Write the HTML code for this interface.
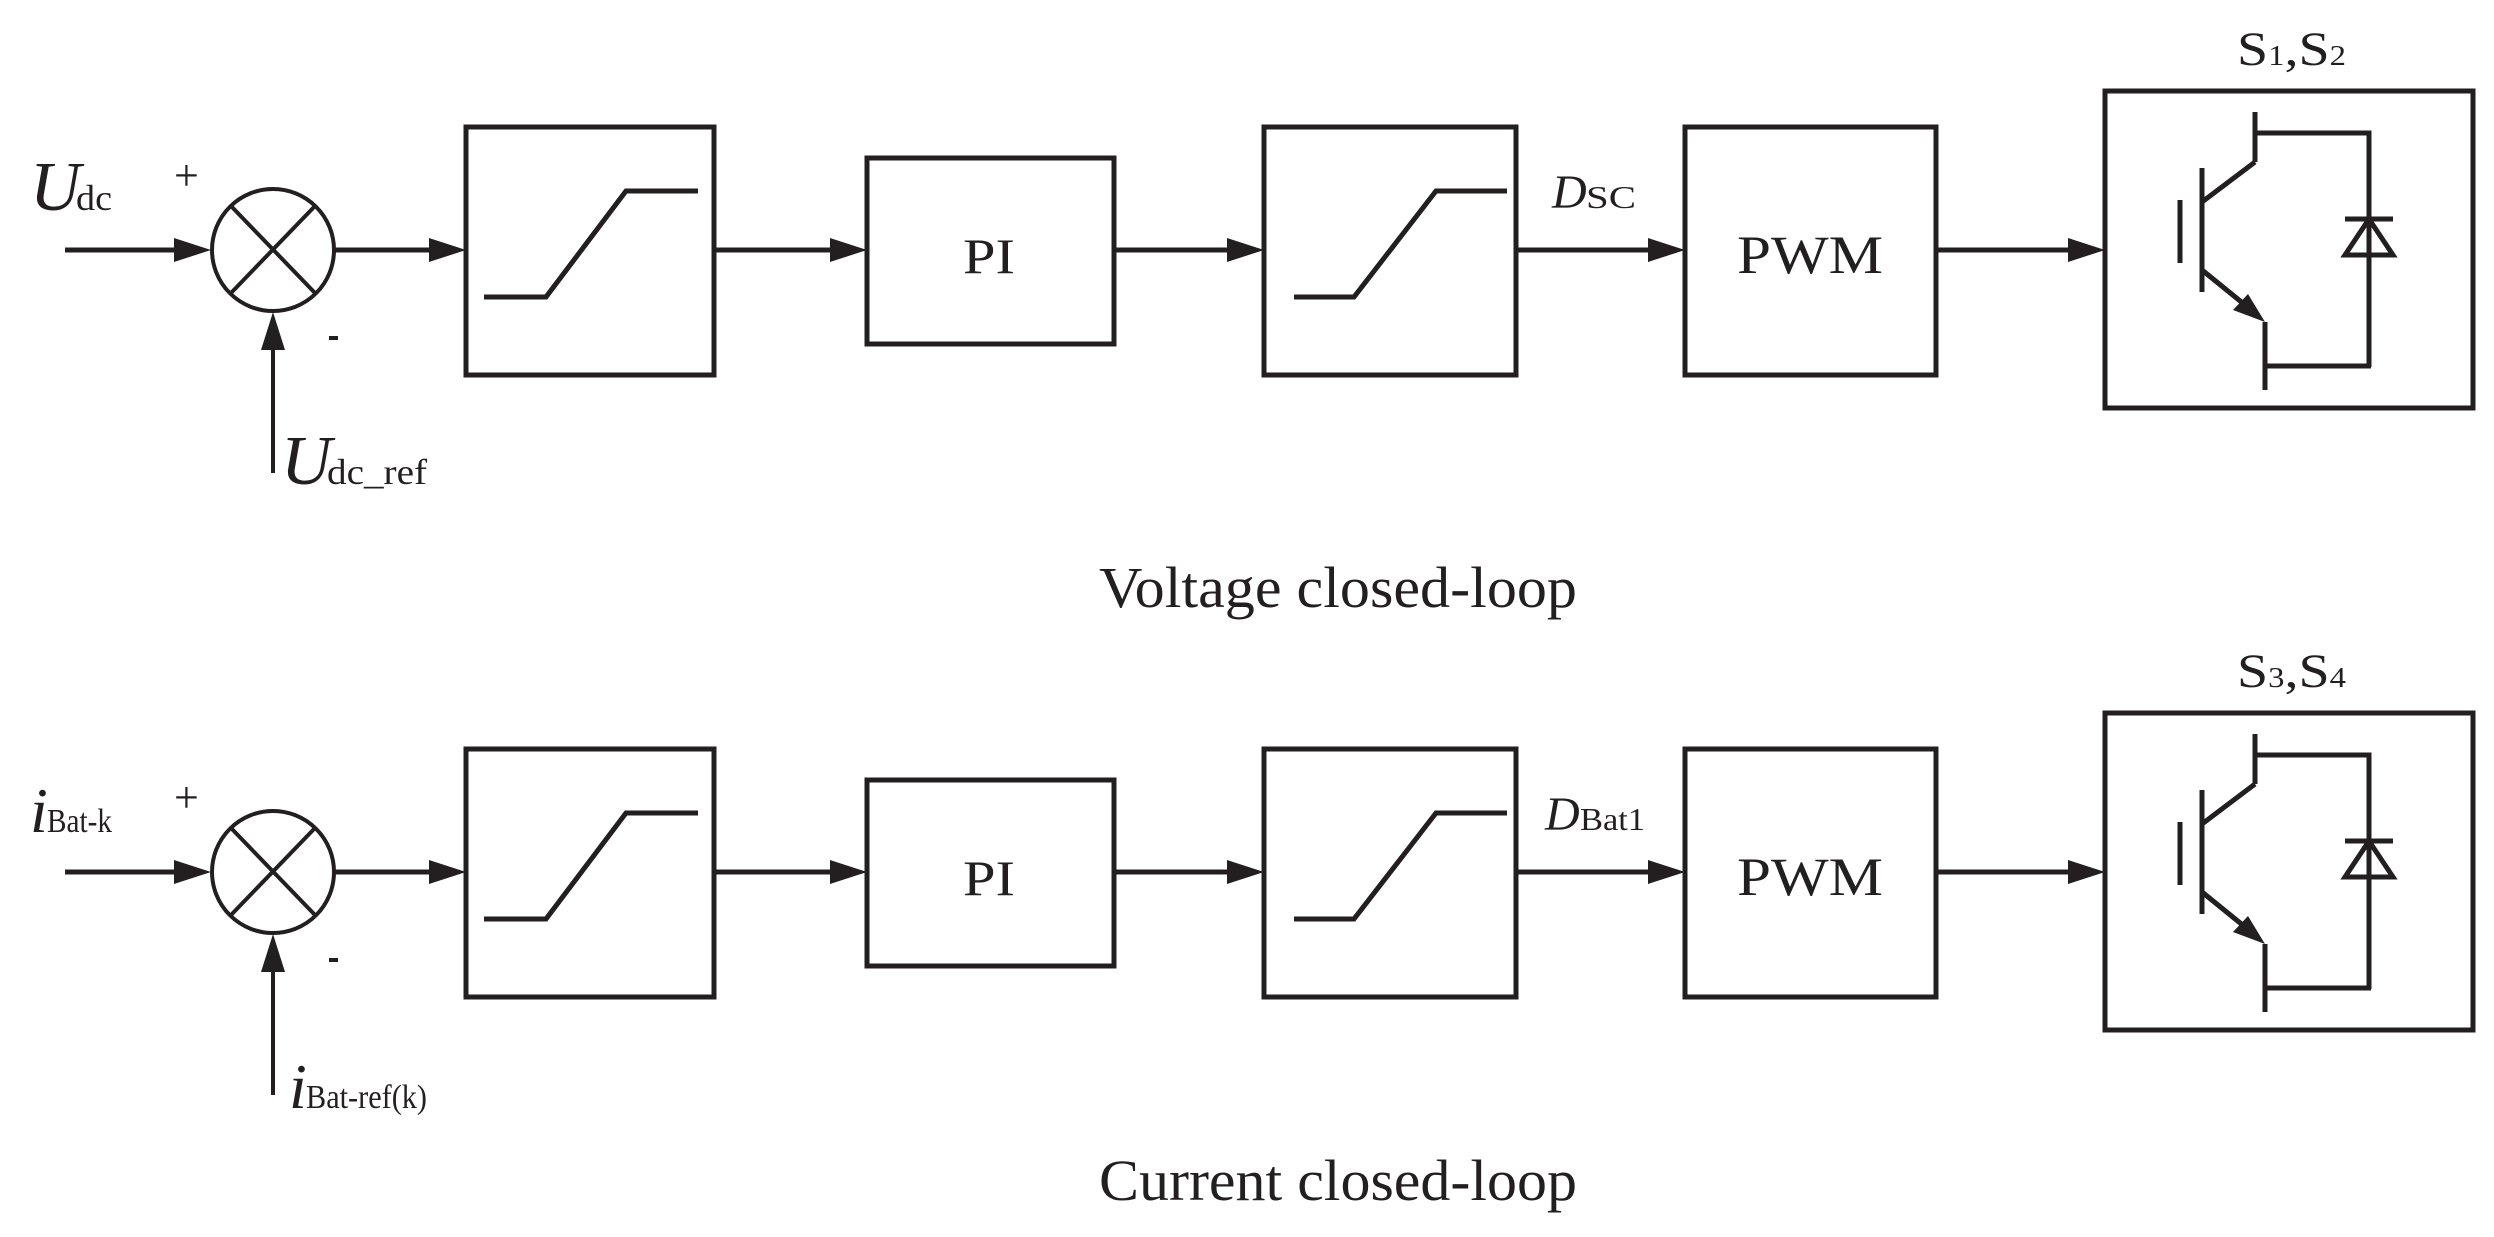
<!DOCTYPE html>
<html><head><meta charset="utf-8"><style>
html,body{margin:0;padding:0;background:#fff;}
svg{display:block;}
text{font-family:"Liberation Serif",serif;fill:#231f20;}
</style></head><body>
<svg width="2494" height="1237" viewBox="0 0 2494 1237" xmlns="http://www.w3.org/2000/svg">
<defs>
<g id="row" stroke="#231f20" stroke-width="5" fill="none">
  <!-- input -->
  <line x1="65" y1="250" x2="180" y2="250"/>
  <polygon points="211,250 174,238 174,262" fill="#231f20" stroke="none"/>
  <ellipse cx="273" cy="250" rx="61" ry="61" stroke-width="4"/>
  <line x1="231" y1="206" x2="315" y2="293" stroke-width="4"/>
  <line x1="315" y1="206" x2="231" y2="293" stroke-width="4"/>
  <!-- feedback -->
  <line x1="273" y1="348" x2="273" y2="473" stroke-width="4"/>
  <polygon points="273,312 261,350 285,350" fill="#231f20" stroke="none"/>
  <!-- to box1 -->
  <line x1="334" y1="250" x2="435" y2="250"/>
  <polygon points="466,250 429,238 429,262" fill="#231f20" stroke="none"/>
  <rect x="466" y="127" width="248" height="248"/>
  <polyline points="484,297 546,297 626,191 698,191"/>
  <!-- to PI -->
  <line x1="714" y1="250" x2="836" y2="250"/>
  <polygon points="867,250 830,238 830,262" fill="#231f20" stroke="none"/>
  <rect x="867" y="158" width="247" height="186"/>
  <!-- to box3 -->
  <line x1="1114" y1="250" x2="1233" y2="250"/>
  <polygon points="1264,250 1227,238 1227,262" fill="#231f20" stroke="none"/>
  <rect x="1264" y="127" width="252" height="248"/>
  <polyline points="1294,297 1354,297 1436,191 1507,191"/>
  <!-- to PWM -->
  <line x1="1516" y1="250" x2="1654" y2="250"/>
  <polygon points="1685,250 1648,238 1648,262" fill="#231f20" stroke="none"/>
  <rect x="1685" y="127" width="251" height="248"/>
  <!-- to switch -->
  <line x1="1936" y1="250" x2="2074" y2="250"/>
  <polygon points="2105,250 2068,238 2068,262" fill="#231f20" stroke="none"/>
  <rect x="2105" y="91" width="368" height="317"/>
  <!-- IGBT -->
  <line x1="2255" y1="112" x2="2255" y2="162"/>
  <polyline points="2255,133 2369,133 2369,367"/>
  <line x1="2255" y1="162" x2="2202" y2="202"/>
  <line x1="2202" y1="168" x2="2202" y2="292"/>
  <line x1="2180" y1="200" x2="2180" y2="263"/>
  <line x1="2202" y1="270" x2="2250" y2="309"/>
  <polygon points="2265,322 2233,310 2248,294" fill="#231f20" stroke="none"/>
  <polyline points="2265,322 2265,390"/>
  <line x1="2265" y1="366" x2="2371" y2="366"/>
  <line x1="2345" y1="219" x2="2393" y2="219"/>
  <polygon points="2369,219 2345,255 2393,255"/>
</g>
</defs>
<use href="#row"/>
<use href="#row" transform="translate(0,622)"/>
<g fill="#231f20">
<text x="174" y="190" font-size="44">+</text>
<rect x="329" y="336" width="9" height="4"/>
<text x="174" y="812" font-size="44">+</text>
<rect x="329" y="958" width="9" height="4"/>
</g>
<!-- row 1 labels -->
<text x="30" y="210" font-size="70" font-style="italic">U</text>
<text x="76" y="210" font-size="36" textLength="36" lengthAdjust="spacingAndGlyphs">dc</text>
<text x="281" y="484" font-size="70" font-style="italic">U</text>
<text x="327" y="484" font-size="36" textLength="100" lengthAdjust="spacingAndGlyphs">dc_ref</text>
<text x="989" y="273" font-size="50" text-anchor="middle" textLength="52" lengthAdjust="spacingAndGlyphs">PI</text>
<text x="1810" y="273" font-size="54" text-anchor="middle" textLength="146" lengthAdjust="spacingAndGlyphs">PWM</text>
<text x="1552" y="208" font-size="48" font-style="italic">D</text>
<text x="1586" y="208" font-size="32" textLength="50" lengthAdjust="spacingAndGlyphs">SC</text>
<text x="2237" y="65" font-size="48" textLength="109" lengthAdjust="spacingAndGlyphs">S<tspan font-size="28">1</tspan>,S<tspan font-size="28">2</tspan></text>
<text x="1099" y="607" font-size="58" textLength="478" lengthAdjust="spacingAndGlyphs">Voltage closed-loop</text>
<!-- row 2 labels -->
<text x="30" y="832" font-size="64" font-style="italic">i</text>
<text x="47" y="832" font-size="34" textLength="65" lengthAdjust="spacingAndGlyphs">Bat-k</text>
<text x="289" y="1108" font-size="64" font-style="italic">i</text>
<text x="306" y="1108" font-size="34" textLength="121" lengthAdjust="spacingAndGlyphs">Bat-ref(k)</text>
<text x="989" y="895" font-size="50" text-anchor="middle" textLength="52" lengthAdjust="spacingAndGlyphs">PI</text>
<text x="1810" y="895" font-size="54" text-anchor="middle" textLength="146" lengthAdjust="spacingAndGlyphs">PWM</text>
<text x="1545" y="830" font-size="48" font-style="italic">D</text>
<text x="1580" y="830" font-size="32" textLength="65" lengthAdjust="spacingAndGlyphs">Bat1</text>
<text x="2237" y="687" font-size="48" textLength="109" lengthAdjust="spacingAndGlyphs">S<tspan font-size="28">3</tspan>,S<tspan font-size="28">4</tspan></text>
<text x="1099" y="1200" font-size="58" textLength="478" lengthAdjust="spacingAndGlyphs">Current closed-loop</text>
</svg>
</body></html>
